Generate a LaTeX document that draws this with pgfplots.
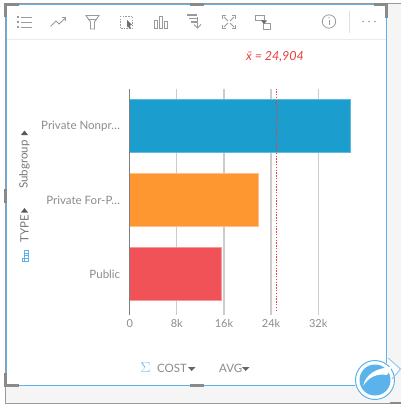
\documentclass[border=0pt]{standalone}
\usepackage{fontspec}
\setmainfont{Lato}
\usepackage{pgfplots}
\pgfplotsset{compat=1.18}
\usepackage{pgfplotstable}

\definecolor{barblue}{HTML}{1B9DCD}
\definecolor{barorange}{HTML}{FF9730}
\definecolor{barred}{HTML}{F05258}
\definecolor{uiblue}{HTML}{5CB3EC}
\definecolor{uigray}{HTML}{8A8A8A}
\definecolor{icongray}{HTML}{9A9A9A}
\definecolor{txtgray}{HTML}{8C8C8C}
\definecolor{meanred}{HTML}{E8403F}

\pgfplotstableread{
y cost
0 15.5
}\publicdata
\pgfplotstableread{
y cost
1 21.85
}\forprofitdata
\pgfplotstableread{
y cost
2 37.5
}\nonprofitdata

\begin{document}
\begin{tikzpicture}[x=1pt,y=-1pt,line cap=butt]
% canvas, image pixel coordinates
\path[use as bounding box] (0,0) rectangle (401,404);
\fill[white] (0,0) rectangle (401,404);
\fill[black!4] (386,4) rectangle (401,403);
\fill[black!4] (5,386) rectangle (401,403);
\fill[white] (6,5) rectangle (386,385);
\draw[black!40,line width=1pt] (401,3.5) -- (5,3.5) -- (5,403) -- (401,403);
\draw[uiblue,line width=1pt] (6.5,5) rectangle (386,385.5);
% resize handles
\draw[uigray,line width=3pt] (5.5,17.5) -- (5.5,5) -- (19,5);
\draw[uigray,line width=3pt] (374,5) -- (386.5,5) -- (386.5,18);
\draw[uigray,line width=3pt] (5.5,373) -- (5.5,385.5) -- (19,385.5);
\draw[uigray,line width=3pt] (190,5) -- (204,5);
\draw[uigray,line width=3pt] (190,385.5) -- (204,385.5);
\draw[uigray,line width=3pt] (5.5,189) -- (5.5,203);
\draw[uigray,line width=2pt] (390,402.5) -- (401,402.5);
% toolbar
\draw[black!8,line width=0.7pt] (7,39.5) -- (386,39.5);
\draw[black!12,line width=0.7pt] (349.5,11) -- (349.5,33);
\begin{scope}[icongray,line width=0.9pt]
 \foreach \yy in {17,22.5,27.5}{
  \fill[icongray] (16.5,\yy-1) rectangle (18.5,\yy+1);
  \draw (21,\yy) -- (32,\yy);}
 \draw (50.5,26.5) -- (56,21) -- (59,24) -- (65.5,18);
 \draw (61.5,17.5) -- (65.5,17.5) -- (65.5,21.5);
 \draw (86,15.5) -- (99,15.5) -- (94.5,22) -- (94.5,29) -- (90.5,29) -- (90.5,22) -- cycle;
 \draw (88.5,19) -- (96.5,19);
 \draw[dash pattern=on 1.5pt off 1.2pt] (120,16) rectangle (132.5,28.5);
 \fill[icongray!70!black] (127,20) -- (132,25) -- (129.8,25.4) -- (131,28.5) -- (129,28.5) -- (128,26) -- (127,27.5) -- cycle;
 \draw (154,28.5) rectangle (157.5,20);
 \draw (159.5,28.5) rectangle (162.5,16.5);
 \draw (164.5,28.5) rectangle (167.5,21.5);
 \draw[line width=1.1pt] (187,15) -- (197,15);
 \draw[line width=1.1pt] (189,18.5) -- (197,18.5);
 \draw[line width=1.1pt] (191,22) -- (197,22);
 \draw (197.5,17) -- (197.5,27.5);
 \draw (194,24.5) -- (197.5,28) -- (201,24.5);
 \draw[line width=0.8pt] (222.5,15.5) rectangle (235.5,28.5);
 \draw[white,line width=2pt] (226,15.5) -- (232,15.5) (226,28.5) -- (232,28.5) (222.5,19) -- (222.5,25) (235.5,19) -- (235.5,25);
 \draw[line width=0.8pt] (224,17) -- (228,21) (234,17) -- (230,21) (224,27) -- (228,23) (234,27) -- (230,23);
 \draw (255.5,15) rectangle (264,20.5);
 \draw (263,23.5) rectangle (270.5,29);
 \fill[icongray!70!black] (261,20.5) -- (267,20.5) -- (264,24) -- cycle;
 \draw[line width=0.8pt] (329,21.5) circle (6.7);
 \draw[line width=0.8pt] (329,20) -- (329,25.5);
 \fill (329,17.8) circle (0.6);
 \foreach \xx in {363,369,375}{\fill (\xx,21.5) circle (0.9);}
\end{scope}
% mean label
\node[meanred,font=\itshape\fontsize{12.5}{14}\selectfont,anchor=center,inner sep=0pt] at (275,56.5) {\=x = 24,904};
% chart: origin at pixel (129.7,315), 5.89 px per thousand, 74.1 px per category
\coordinate (org) at (129.7,315);
\begin{axis}[
  at={(org)},
  anchor=south west,
  scale only axis,
  width=235.6pt,
  height=226pt,
  xmin=0,xmax=40,
  ymin=-0.553,ymax=2.497,
  axis line style={draw=none},
  xtick={0,8,16,24,32},
  xticklabels={0,8k,16k,24k,32k},
  ytick={0,1,2},
  yticklabels={Public,Private For-P.\kern0.4pt.\kern0.4pt.,Private Nonpr.\kern0.4pt.\kern0.4pt.},
  xmajorgrids,
  grid style={black!20,line width=1.2pt},
  major tick length=0pt,
  tick label style={txtgray,font=\fontsize{11}{13}\selectfont},
  yticklabel style={xshift=-6pt,font=\fontsize{11.5}{13}\selectfont},
  xticklabel style={yshift=-1pt},
  xbar,
  bar width=52.7pt,
  bar shift=0pt,
  clip=false,
  /pgf/number format/assume math mode=true,
]
\addplot[xbar,bar shift=0pt,fill=barred,draw=barred!60!white,line width=0.5pt] table[x=cost,y=y]{\publicdata};
\addplot[xbar,bar shift=0pt,fill=barorange,draw=barorange!60!white,line width=0.5pt] table[x=cost,y=y]{\forprofitdata};
\addplot[xbar,bar shift=0pt,fill=barblue,draw=barblue!70!white,line width=0.5pt] table[x=cost,y=y]{\nonprofitdata};
\addplot[sharp plot,black!50,line width=0.9pt,forget plot] coordinates {(0,-0.553) (0,2.497)};
\addplot[sharp plot,meanred,line width=0.8pt,dash pattern=on 1.5pt off 1.3pt] coordinates {(24.904,-0.5) (24.904,2.497)};
\end{axis}
% shelf labels
\node[rotate=90,txtgray!85!black,font=\fontsize{11.5}{13}\selectfont,inner sep=0pt] at (24.5,164.5) {Subgroup};
\fill[black!65] (21,135) -- (28,135) -- (24.5,130.5) -- cycle;
\node[rotate=90,txtgray!85!black,font=\fontsize{11.5}{13}\selectfont,inner sep=0pt] at (24.5,228.5) {TYPE};
\fill[black!65] (21,212.5) -- (28,212.5) -- (24.5,208) -- cycle;
\begin{scope}[uiblue,line width=0.8pt]
 \draw (28.5,250.5) rectangle (24.5,261);
 \draw (24.5,253) -- (28.5,253) (24.5,255.5) -- (28.5,255.5) (24.5,258) -- (28.5,258);
 \draw (24.5,261) -- (22,261) -- (22,258) -- (24.5,258);
\end{scope}
\node[uiblue!80!white,font=\fontsize{14}{15}\selectfont,inner sep=0pt] at (145.5,368) {$\Sigma$};
\node[txtgray,font=\fontsize{11.5}{13}\selectfont,anchor=west,inner sep=0pt] at (157,368.5) {COST};
\fill[black!60] (188,367) -- (195.5,367) -- (191.7,371) -- cycle;
\node[txtgray,font=\fontsize{11.5}{13}\selectfont,anchor=west,inner sep=0pt] at (219,368.5) {AVG};
\fill[black!60] (242,367) -- (249.5,367) -- (245.7,371) -- cycle;
% share button
\fill[white] (375,380) circle (20.5);
\fill[white] (387,356) -- (401,369) -- (388,383) -- cycle;
\draw[uiblue,line width=1pt] (375,380) circle (19.5);
\fill[uiblue] (375,380) circle (15.5);
\fill[white] (363,386) .. controls (366,374) and (376,368) .. (392,367) -- (387,375) .. controls (376,373) and (368,378) .. (363,386) -- cycle;
\draw[uiblue!70!white,line width=1pt] (388,358) -- (400.5,369) -- (392,379);
\end{tikzpicture}
\end{document}
